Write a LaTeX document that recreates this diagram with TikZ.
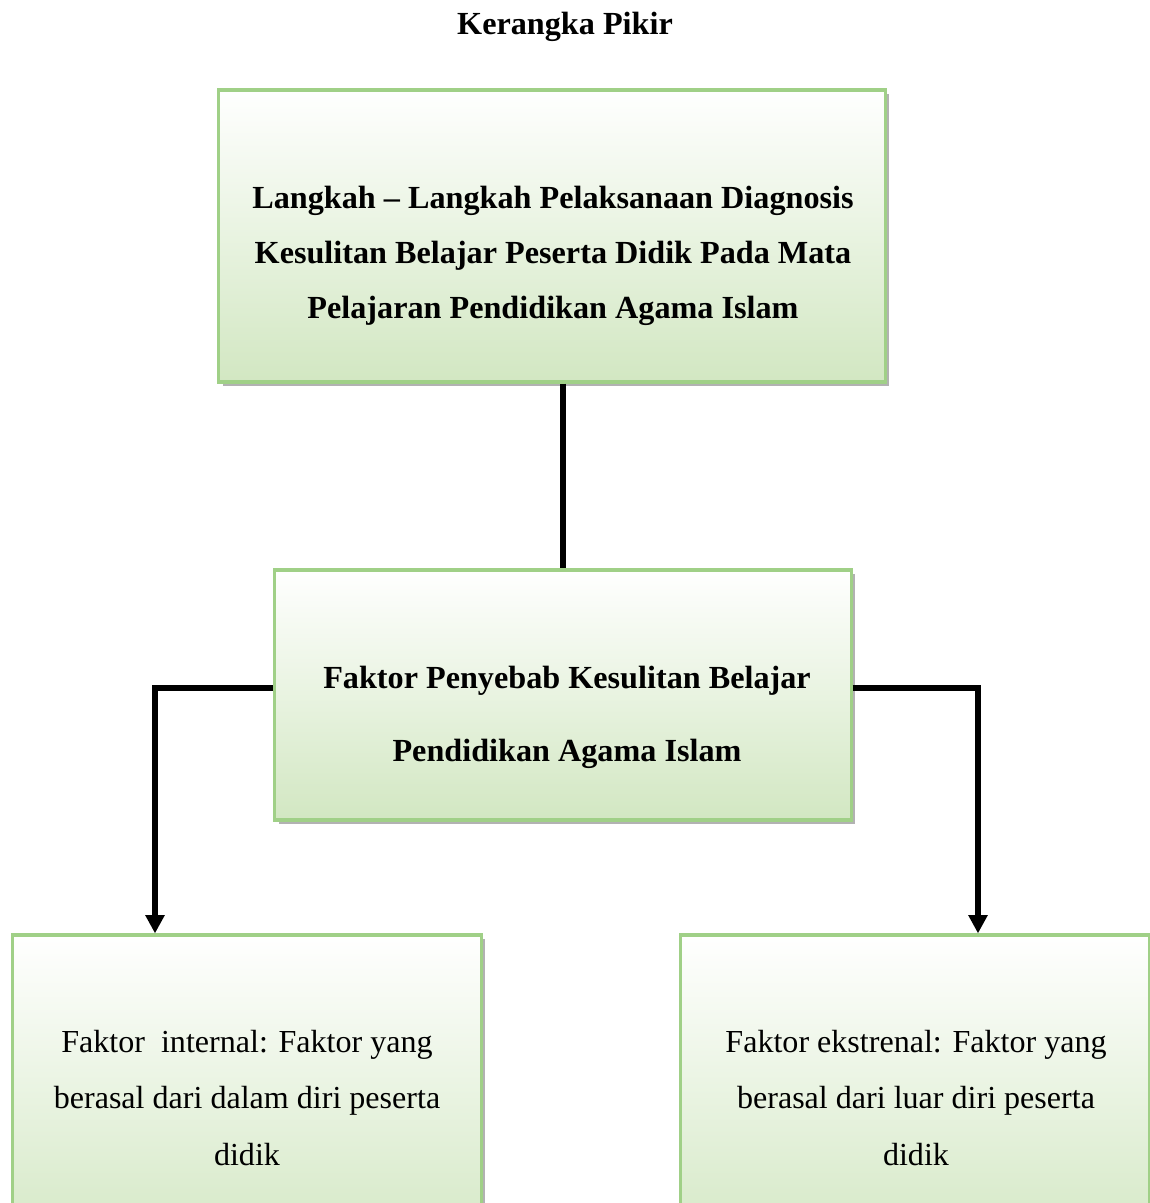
\documentclass[tikz,border=0pt]{standalone}
\usepackage{fontspec}
\setmainfont{Liberation Serif}
\usetikzlibrary{shadows,arrows.meta,calc}

\definecolor{garishijau}{RGB}{160,208,135}
\definecolor{isihijau}{RGB}{210,231,194}

\tikzset{
    kotak/.style={draw=garishijau, line width=2.2pt, top color=white, bottom color=isihijau,
        drop shadow={shadow xshift=0.11cm, shadow yshift=-0.11cm, fill=black!30, opacity=1}},
    tebal/.style={font=\fontsize{22.9}{39}\selectfont\bfseries, align=center},
    biasa/.style={font=\fontsize{22.8}{40}\selectfont, align=center},
    penghubung/.style={line width=4.2pt},
}

\begin{document}
\begin{tikzpicture}[x=0.025cm, y=-0.025cm]
    \useasboundingbox (0,0) rectangle (1150,1203);
    \clip (0,0) rectangle (1150,1203);

    % Judul
    \node[tebal] (judul) at (565,27) {Kerangka Pikir};

    % Kotak
    \node[kotak, minimum width=16.65cm, minimum height=7.3cm] (A) at (552,236) {};
    \node[kotak, minimum width=14.4cm, minimum height=6.25cm] (B) at (563,695) {};
    \node[kotak, minimum width=11.7cm, minimum height=8.15cm] (C) at (247,1098) {};
    \node[kotak, minimum width=11.7cm, minimum height=8.15cm] (D) at (915,1098) {};

    % Isi kotak
    \node[tebal] (A-teks) at (553,256) {Langkah -- Langkah Pelaksanaan Diagnosis\\
        Kesulitan Belajar Peserta Didik Pada Mata\\
        Pelajaran Pendidikan Agama Islam};
    \node[tebal, font=\fontsize{22.9}{52}\selectfont\bfseries] (B-teks) at (567,717)
        {Faktor Penyebab Kesulitan Belajar\\ Pendidikan Agama Islam};
    \node[biasa] (C-teks) at (247,1098) {Faktor\ \ internal: Faktor yang\\
        berasal dari dalam diri peserta\\ didik};
    \node[biasa] (D-teks) at (916,1098) {Faktor ekstrenal: Faktor yang\\
        berasal dari luar diri peserta\\ didik};

    % Garis penghubung
    \coordinate (kiri) at (155,688);
    \coordinate (kanan) at (978,688);
    \draw[penghubung] ($(A.south)+(11,0)$) to (B.north);
    \draw[penghubung, -{Triangle[width=13pt, length=13pt]}] (B.west |- kiri) -- (kiri) -- (C.north -| kiri);
    \draw[penghubung, -{Triangle[width=13pt, length=13pt]}] (B.east |- kanan) -- (kanan) -- (D.north -| kanan);
\end{tikzpicture}
\end{document}
